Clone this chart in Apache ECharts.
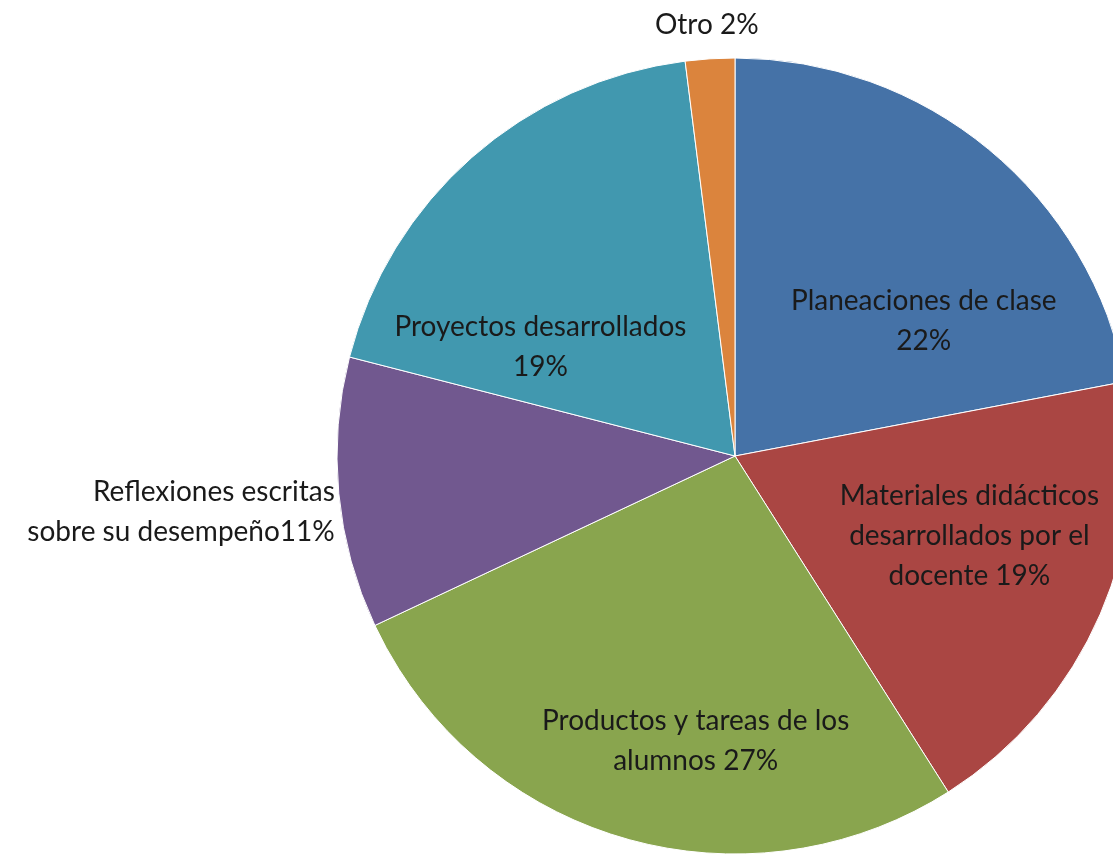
<!DOCTYPE html>
<html>
<head>
<meta charset="utf-8">
<script src="https://cdn.jsdelivr.net/npm/echarts@6/dist/echarts.min.js"></script>
<style>
  html, body { margin: 0; padding: 0; background: #fff; }
  #chart { width: 1113px; height: 864px; }
</style>
</head>
<body>
<div id="chart"></div>
<script>
// data, clockwise from 12 o'clock
const categories = [
  'Planeaciones de clase',
  'Materiales didácticos\ndesarrollados por el\ndocente',
  'Productos y tareas de los\nalumnos',
  'Reflexiones escritas\nsobre su desempeño',
  'Proyectos desarrollados',
  'Otro'
];
const values = [22, 19, 27, 11, 19, 2];
const separators = ['\n', ' ', ' ', '', '\n', ' '];
const colors = ['#4572A7', '#AA4643', '#89A54E', '#71588F', '#4198AF', '#DB843D'];
// how far to nudge each label from where echarts puts it
const labelShift = [[60, 21], [49, 0], [17, 91], [7, 18], [-61, 42], [54, -28]];
const outsideIdx = [3, 5];

const chart = echarts.init(document.getElementById('chart'));

const seriesData = categories.map((name, i) => ({
  name,
  value: values[i],
  itemStyle: { color: colors[i] },
  label: outsideIdx.includes(i)
    ? { position: 'outside', align: i === 3 ? 'right' : 'center' }
    : { position: 'inside' },
  labelLine: { show: false }
}));

chart.setOption({
  animation: false,
  series: [{
    type: 'pie',
    center: [735, 456],
    radius: 398,
    startAngle: 90,
    clockwise: true,
    data: seriesData,
    itemStyle: { borderColor: '#ffffff', borderWidth: 1 },
    label: {
      color: '#1a1a1a',
      fontFamily: 'Lato',
      fontSize: 28,
      lineHeight: 40,
      align: 'center',
      formatter: (p) => p.name + separators[p.dataIndex] + p.value + '%'
    },
    labelLine: { show: false, length: 6, length2: 0 },
    labelLayout: (p) => ({ dx: labelShift[p.dataIndex][0], dy: labelShift[p.dataIndex][1] })
  }]
});
</script>
</body>
</html>
